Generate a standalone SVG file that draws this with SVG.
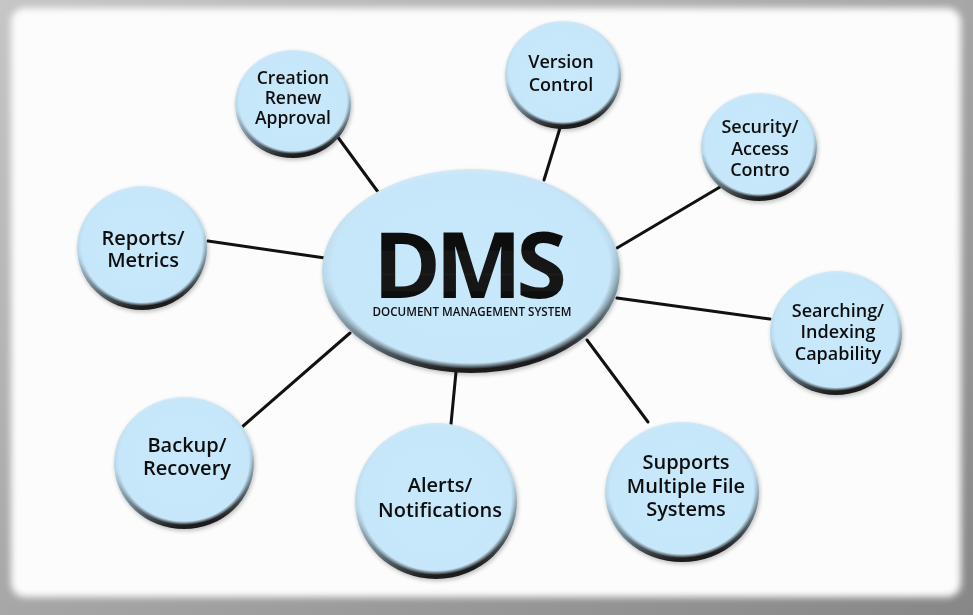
<svg xmlns="http://www.w3.org/2000/svg" width="973" height="615" viewBox="0 0 973 615">
  <defs>
    <linearGradient id="frameGrad" x1="0" y1="0" x2="1" y2="1">
      <stop offset="0" stop-color="#c6c6c6"/>
      <stop offset="1" stop-color="#878787"/>
    </linearGradient>
    <filter id="soft" x="-5%" y="-5%" width="110%" height="110%">
      <feGaussianBlur stdDeviation="3.5"/>
    </filter>
    <linearGradient id="rim" x1="0.2" y1="0" x2="0.4" y2="1">
      <stop offset="0" stop-color="#d4ecfa"/>
      <stop offset="0.5" stop-color="#b8d6e8"/>
      <stop offset="0.78" stop-color="#6d808b"/>
      <stop offset="1" stop-color="#1c1c1c"/>
    </linearGradient>
    <radialGradient id="face" cx="0.5" cy="0.5" r="0.5">
      <stop offset="0" stop-color="#c8e8fb"/>
      <stop offset="0.94" stop-color="#c6e6f9"/>
      <stop offset="1" stop-color="#c6e6f9" stop-opacity="0"/>
    </radialGradient>
    <linearGradient id="dmsGrad" x1="0" y1="0" x2="0" y2="1">
      <stop offset="0" stop-color="#000"/>
      <stop offset="0.6" stop-color="#1a1a1a"/>
      <stop offset="1" stop-color="#000"/>
    </linearGradient>
    <filter id="shadow" x="-20%" y="-20%" width="140%" height="140%">
      <feGaussianBlur in="SourceAlpha" stdDeviation="2"/>
      <feOffset dx="1" dy="2" result="b"/>
      <feComponentTransfer><feFuncA type="linear" slope="0.25"/></feComponentTransfer>
      <feMerge><feMergeNode/><feMergeNode in="SourceGraphic"/></feMerge>
    </filter>
  </defs>
  <style>
    .rim { fill: url(#rim); }
    .face { fill: url(#face); }
    .lbl { font-family: "Open Sans", "Noto Sans", "Liberation Sans", sans-serif; font-weight: 600; fill: #111; text-anchor: middle; }
    .s18 { font-size: 18px; }
    .s20 { font-size: 20px; }
    .conn line { stroke: #111; stroke-width: 3; stroke-linecap: round; }
  </style>

  <!-- frame -->
  <rect x="0" y="0" width="973" height="615" fill="url(#frameGrad)"/>
  <rect x="11" y="8" width="950" height="589" rx="14" fill="#fcfcfc" filter="url(#soft)"/>

  <!-- connectors -->
  <g id="connectors" class="conn">
    <line x1="337" y1="136" x2="378" y2="192"/>
    <line x1="560" y1="128" x2="544" y2="180"/>
    <line x1="720" y1="187" x2="617" y2="248"/>
    <line x1="770" y1="319" x2="617" y2="298"/>
    <line x1="587" y1="340" x2="648" y2="422"/>
    <line x1="456" y1="372" x2="451" y2="424"/>
    <line x1="350" y1="333" x2="242" y2="427"/>
    <line x1="208" y1="241" x2="325" y2="258"/>
  </g>

  <!-- center -->
  <g id="dms" filter="url(#shadow)">
    <ellipse class="rim" cx="471" cy="271" rx="149" ry="102"/>
    <ellipse class="face" cx="471" cy="269" rx="148" ry="100"/>
    <text x="470" y="298" font-family="'Open Sans', 'Noto Sans', 'Liberation Sans', sans-serif" font-weight="700" font-size="92" fill="url(#dmsGrad)" text-anchor="middle" textLength="194" lengthAdjust="spacing">DMS</text>
    <text x="472" y="316" font-family="'Open Sans', 'Noto Sans', 'Liberation Sans', sans-serif" font-weight="600" font-size="12" fill="#111" text-anchor="middle" textLength="199" lengthAdjust="spacingAndGlyphs">DOCUMENT MANAGEMENT SYSTEM</text>
  </g>

  <g id="creation" filter="url(#shadow)">
    <ellipse class="rim" cx="293" cy="104" rx="58" ry="54"/>
    <ellipse class="face" cx="293" cy="102" rx="57" ry="52"/>
    <text class="lbl" x="293" y="84" font-size="17.5">Creation</text>
    <text class="lbl" x="293" y="104" font-size="17.5">Renew</text>
    <text class="lbl" x="293" y="124" font-size="17.5">Approval</text>
  </g>

  <g id="version" filter="url(#shadow)">
    <ellipse class="rim" cx="563" cy="75" rx="58" ry="54"/>
    <ellipse class="face" cx="563" cy="73" rx="57" ry="52"/>
    <text class="lbl s18" x="561" y="68">Version</text>
    <text class="lbl s18" x="561" y="91">Control</text>
  </g>

  <g id="security" filter="url(#shadow)">
    <ellipse class="rim" cx="759" cy="147" rx="58" ry="54"/>
    <ellipse class="face" cx="759" cy="145" rx="57" ry="52"/>
    <text class="lbl s18" x="760" y="133">Security/</text>
    <text class="lbl s18" x="760" y="155">Access</text>
    <text class="lbl s18" x="760" y="176">Contro</text>
  </g>

  <g id="searching" filter="url(#shadow)">
    <ellipse class="rim" cx="836" cy="333" rx="66" ry="62"/>
    <ellipse class="face" cx="836" cy="331" rx="65" ry="60"/>
    <text class="lbl s18" x="838" y="317">Searching/</text>
    <text class="lbl s18" x="838" y="338">Indexing</text>
    <text class="lbl s18" x="838" y="360">Capability</text>
  </g>

  <g id="reports" filter="url(#shadow)">
    <ellipse class="rim" cx="142" cy="248" rx="65" ry="62"/>
    <ellipse class="face" cx="142" cy="246" rx="64" ry="60"/>
    <text class="lbl s20" x="143" y="245">Reports/</text>
    <text class="lbl s20" x="143" y="267">Metrics</text>
  </g>

  <g id="backup" filter="url(#shadow)">
    <ellipse class="rim" cx="184" cy="463" rx="70" ry="66"/>
    <ellipse class="face" cx="184" cy="461" rx="69" ry="64"/>
    <text class="lbl s20" x="187" y="452">Backup/</text>
    <text class="lbl s20" x="187" y="475">Recovery</text>
  </g>

  <g id="alerts" filter="url(#shadow)">
    <ellipse class="rim" cx="436" cy="501" rx="81" ry="78"/>
    <ellipse class="face" cx="436" cy="499" rx="80" ry="76"/>
    <text class="lbl s20" x="440" y="492">Alerts/</text>
    <text class="lbl s20" x="440" y="517">Notifications</text>
  </g>

  <g id="supports" filter="url(#shadow)">
    <ellipse class="rim" cx="682" cy="492" rx="77" ry="70"/>
    <ellipse class="face" cx="682" cy="490" rx="76" ry="68"/>
    <text class="lbl s20" x="686" y="469">Supports</text>
    <text class="lbl s20" x="686" y="493">Multiple File</text>
    <text class="lbl s20" x="686" y="516">Systems</text>
  </g>
</svg>
